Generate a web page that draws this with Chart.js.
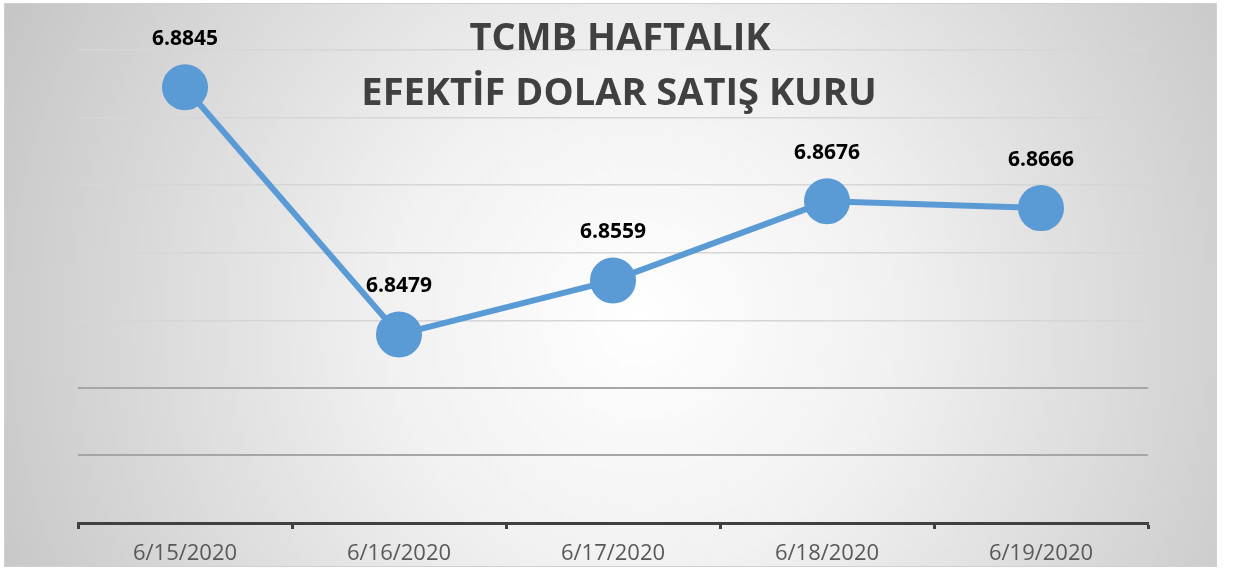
<!DOCTYPE html>
<html>
<head>
<meta charset="utf-8">
<script src="https://cdn.jsdelivr.net/npm/chart.js@4.4.1/dist/chart.umd.min.js"></script>
<style>
  html, body { margin: 0; padding: 0; background: #fff; }
  #wrap { width: 1233px; height: 569px; }
</style>
</head>
<body>
<div id="wrap"><canvas id="chart" width="1233" height="569"></canvas></div>
<script>
// Chart data
const days = ['6/15/2020', '6/16/2020', '6/17/2020', '6/18/2020', '6/19/2020'];
const rates = [6.8845, 6.8479, 6.8559, 6.8676, 6.8666];
const titleLines = ['TCMB HAFTALIK', 'EFEKTİF DOLAR SATIŞ KURU'];
const yMin = 6.82;
const yMax = 6.89;
const yStep = 0.01;

const FONT = '"Open Sans", "Liberation Sans", sans-serif';

// gradient panel behind everything
const panelBg = {
  id: 'panelBg',
  beforeDraw: (chart) => {
    const ctx = chart.ctx;
    ctx.save();
    const g = ctx.createRadialGradient(640, 320, 0, 640, 320, 720);
    g.addColorStop(0, '#ffffff');
    g.addColorStop(0.35, '#f1f1f1');
    g.addColorStop(1, '#c4c4c4');
    ctx.fillStyle = g;
    ctx.fillRect(4, 3, 1213, 564);
    ctx.strokeStyle = '#d0d0d0';
    ctx.lineWidth = 1;
    ctx.strokeRect(4.5, 3.5, 1212, 563);
    ctx.restore();
  }
};

// title + value labels drawn on top
const overlay = {
  id: 'overlay',
  afterDatasetsDraw: (chart) => {
    const ctx = chart.ctx;
    ctx.save();
    ctx.textAlign = 'center';
    ctx.textBaseline = 'middle';
    ctx.fillStyle = '#000';
    ctx.font = 'bold 21px ' + FONT;
    const meta = chart.getDatasetMeta(0);
    meta.data.forEach((pt, i) => {
      ctx.fillText(rates[i].toFixed(4), pt.x, pt.y - 48);
    });
    ctx.fillStyle = '#404040';
    ctx.font = 'bold 38px ' + FONT;
    ctx.fillText(titleLines[0], 620, 39);
    ctx.fillText(titleLines[1], 619, 94);
    ctx.restore();
  }
};

const ctx = document.getElementById('chart').getContext('2d');

new Chart(ctx, {
  type: 'line',
  data: {
    labels: days,
    datasets: [{
      data: rates,
      borderColor: '#5b9bd5',
      borderWidth: 6,
      backgroundColor: '#5b9bd5',
      pointBackgroundColor: '#5b9bd5',
      pointBorderColor: '#5b9bd5',
      pointRadius: 22,
      pointBorderWidth: 2,
      tension: 0,
      clip: false
    }]
  },
  options: {
    responsive: false,
    animation: false,
    layout: {
      padding: { left: 78, right: 85, top: 50, bottom: 0 }
    },
    plugins: {
      legend: { display: false },
      title: { display: false },
      tooltip: { enabled: false }
    },
    scales: {
      x: {
        offset: true,
        border: { display: true, color: '#404040', width: 3 },
        grid: {
          offset: true,
          drawOnChartArea: false,
          drawTicks: true,
          tickLength: 6,
          tickWidth: 3,
          tickColor: '#404040'
        },
        ticks: {
          color: '#595959',
          padding: 12,
          font: { family: FONT, size: 22 }
        },
        afterFit: (s) => { s.height = 46; }
      },
      y: {
        min: yMin,
        max: yMax,
        border: { display: false },
        ticks: { display: false, stepSize: yStep },
        grid: {
          drawTicks: false,
          color: (c) => (c.tick && c.tick.value <= 6.84 + 1e-9) ? '#a6a6a6' : '#d6d6d6',
          lineWidth: (c) => (c.tick && c.tick.value <= 6.84 + 1e-9) ? 2 : 1.5
        },
        afterFit: (s) => { s.width = 0; }
      }
    }
  },
  plugins: [panelBg, overlay]
});
</script>
</body>
</html>
